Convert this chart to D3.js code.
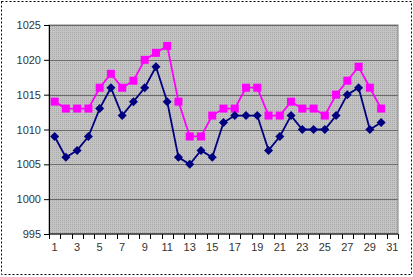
<!DOCTYPE html>
<html><head><meta charset="utf-8">
<script src="https://cdn.jsdelivr.net/npm/d3@7"></script>
<style>body{margin:0;background:#fff}svg{display:block}</style>
</head><body>
<script>
const days = d3.range(1, 32);
const seriesA = [1009,1006,1007,1009,1013,1016,1012,1014,1016,1019,1014,1006,1005,1007,1006,1011,1012,1012,1012,1007,1009,1012,1010,1010,1010,1012,1015,1016,1010,1011];
const seriesB = [1014,1013,1013,1013,1016,1018,1016,1017,1020,1021,1022,1014,1009,1009,1012,1013,1013,1016,1016,1012,1012,1014,1013,1013,1012,1015,1017,1019,1016,1013];
const yTicks = [995,1000,1005,1010,1015,1020,1025];
const xLabels = [1,3,5,7,9,11,13,15,17,19,21,23,25,27,29,31];

const W = 413, H = 277;
const m = {l:49, t:25, r:398, b:234};
const svg = d3.select("body").append("svg").attr("width", W).attr("height", H);

const defs = svg.append("defs");
const pat = defs.append("pattern").attr("id","dots").attr("width",2).attr("height",2).attr("patternUnits","userSpaceOnUse");
pat.append("rect").attr("width",2).attr("height",2).attr("fill","#c4c4c4");
pat.append("rect").attr("width",1).attr("height",1).attr("fill","#a8a8a8");

svg.append("rect").attr("x",1.5).attr("y",1.5).attr("width",W-3).attr("height",H-4)
  .attr("fill","#fff").attr("stroke","#000").attr("stroke-dasharray","2,2");

const x = d3.scaleBand().domain(days).range([m.l, m.r]).padding(0);
const y = d3.scaleLinear().domain([995,1025]).range([m.b, m.t]);
const cx = d => x(d) + x.bandwidth()/2;

svg.append("rect").attr("x",m.l).attr("y",m.t).attr("width",m.r-m.l).attr("height",m.b-m.t)
  .attr("fill","url(#dots)").attr("stroke","#808080").attr("stroke-width",1);

svg.append("g").selectAll("line").data(yTicks.slice(1)).join("line")
  .attr("x1",m.l).attr("x2",m.r).attr("y1",d=>Math.round(y(d))+0.5).attr("y2",d=>Math.round(y(d))+0.5)
  .attr("stroke","#6a6a6a").attr("stroke-width",1.2);

// y axis
const yAxis = d3.axisLeft(y).tickValues(yTicks).tickSize(5).tickPadding(3).tickFormat(d3.format("d"));
const gy = svg.append("g").attr("transform",`translate(${m.l},0)`).call(yAxis);
gy.select(".domain").attr("stroke","#000");
gy.selectAll("line").attr("stroke","#000");
gy.selectAll("text").attr("font-family","Liberation Sans, Arial, sans-serif").attr("font-size",11).attr("fill","#333");

// x axis
const xLin = d3.scaleLinear().domain([0.5,31.5]).range([m.l, m.r]);
const gx = svg.append("g").attr("transform",`translate(0,${m.b})`);
gx.append("line").attr("x1",m.l).attr("x2",m.r).attr("stroke","#000");
gx.selectAll("line.t").data(d3.range(0.5,32,1)).join("line").attr("class","t")
  .attr("x1",d=>Math.round(xLin(d))+0.5).attr("x2",d=>Math.round(xLin(d))+0.5).attr("y1",0).attr("y2",5).attr("stroke","#000");
gx.selectAll("text").data(xLabels).join("text")
  .attr("x",d=>cx(d)).attr("y",17).attr("text-anchor","middle")
  .attr("font-family","Liberation Sans, Arial, sans-serif").attr("font-size",11).attr("fill","#333").text(d=>d);

const line = d3.line().x((d,i)=>cx(days[i])).y(d=>y(d));

svg.append("path").datum(seriesB).attr("d",line).attr("fill","none").attr("stroke","#ff00ff").attr("stroke-width",1.8);
svg.append("path").datum(seriesA).attr("d",line).attr("fill","none").attr("stroke","#000080").attr("stroke-width",1.8);

svg.append("g").selectAll("rect").data(seriesB).join("rect")
  .attr("x",(d,i)=>cx(days[i])-4).attr("y",d=>y(d)-4).attr("width",8).attr("height",8).attr("fill","#ff00ff");
svg.append("g").selectAll("path").data(seriesA).join("path")
  .attr("d",(d,i)=>{const px=cx(days[i]),py=y(d);return `M${px},${py-4.5}L${px+4.5},${py}L${px},${py+4.5}L${px-4.5},${py}Z`;})
  .attr("fill","#000080");
</script>
</body></html>
